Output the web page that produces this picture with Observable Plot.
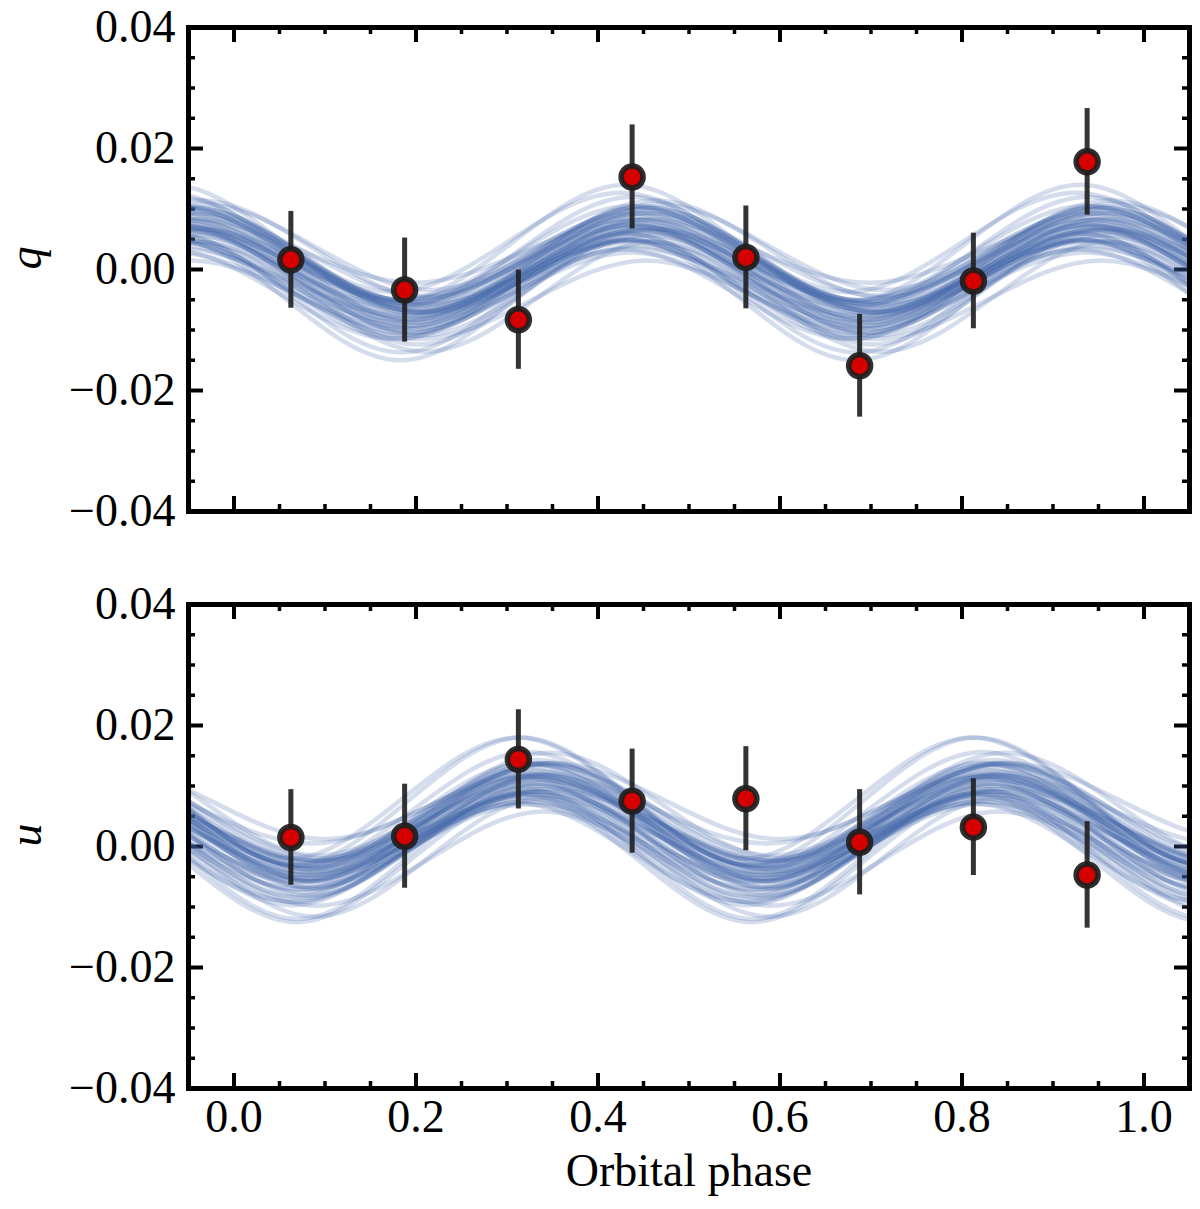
<!DOCTYPE html>
<html lang="en">
<head>
<meta charset="UTF-8">
<title>q and u against orbital phase</title>
<script src="https://cdn.jsdelivr.net/npm/d3@7"></script>
<script src="https://cdn.jsdelivr.net/npm/@observablehq/plot@0.6"></script>
<style>
  body { margin: 0; background: #fff; }
  #chart svg { display: block; }
</style>
</head>
<body>
<div id="chart"></div>
<script>
// phase bins of the measured points
const phase = [0.0625, 0.1875, 0.3125, 0.4375, 0.5625, 0.6875, 0.8125, 0.9375];

// q (top panel)
const qVal = [0.0016, -0.0034, -0.0083, 0.0153, 0.0020, -0.0159, -0.0019, 0.0178];
const qErr = [0.0080, 0.0086, 0.0082, 0.0086, 0.0085, 0.0085, 0.0079, 0.0088];

// u (bottom panel)
const uVal = [0.0015, 0.0017, 0.0144, 0.0075, 0.0079, 0.0007, 0.0032, -0.0047];
const uErr = [0.0079, 0.0086, 0.0082, 0.0086, 0.0086, 0.0087, 0.0080, 0.0088];

// model draws: phase of the first maximum, value at maxima, value at minima
const qPeak = [0.445, 0.432, 0.458, 0.438, 0.451, 0.427, 0.463, 0.441, 0.449, 0.435, 0.456, 0.443,
               0.430, 0.460, 0.447, 0.436, 0.454, 0.442, 0.448, 0.429, 0.452, 0.444, 0.465, 0.433,
               0.446, 0.439, 0.457, 0.440, 0.425, 0.450, 0.445, 0.434, 0.461, 0.447, 0.437, 0.453,
               0.442, 0.455, 0.436, 0.449, 0.444, 0.431, 0.459, 0.446, 0.440, 0.452, 0.438, 0.448];
const qHi = [0.0082, 0.0048, 0.0093, 0.0073, 0.0064, 0.0033, 0.0114, 0.0048, 0.0105, 0.0046, 0.0083, 0.0050,
             0.0140, 0.0046, 0.0093, 0.0028, 0.0094, 0.0070, 0.0086, 0.0060, 0.0069, 0.0065, 0.0108, 0.0050,
             0.0103, 0.0035, 0.0102, 0.0039, 0.0127, 0.0057, 0.0099, 0.0059, 0.0067, 0.0072, 0.0120, 0.0015,
             0.0082, 0.0057, 0.0105, 0.0083, 0.0076, 0.0049, 0.0101, 0.0076, 0.0074, 0.0064, 0.0092, 0.0066];
const qLo = [-0.0062, -0.0108, -0.0043, -0.0097, -0.0058, -0.0115, -0.0046, -0.0084, -0.0073, -0.0094, -0.0071, -0.0066,
             -0.0052, -0.0136, -0.0053, -0.0100, -0.0070, -0.0080, -0.0022, -0.0114, -0.0069, -0.0093, -0.0034, -0.0150,
             -0.0087, -0.0077, -0.0066, -0.0105, -0.0037, -0.0077, -0.0053, -0.0137, -0.0059, -0.0104, -0.0060, -0.0115,
             -0.0058, -0.0109, -0.0051, -0.0097, -0.0072, -0.0087, -0.0071, -0.0082, -0.0056, -0.0124, -0.0050, -0.0088];

const uPeak = [0.330, 0.318, 0.342, 0.325, 0.336, 0.313, 0.347, 0.328, 0.334, 0.321, 0.344, 0.331,
               0.316, 0.339, 0.332, 0.322, 0.341, 0.327, 0.335, 0.314, 0.338, 0.329, 0.350, 0.319,
               0.333, 0.324, 0.343, 0.326, 0.311, 0.337, 0.331, 0.320, 0.346, 0.333, 0.323, 0.340,
               0.328, 0.335, 0.322, 0.339, 0.331, 0.326, 0.344, 0.330, 0.317, 0.336, 0.329, 0.334];
const uHi = [0.0117, 0.0088, 0.0135, 0.0116, 0.0110, 0.0071, 0.0155, 0.0088, 0.0143, 0.0074, 0.0117, 0.0086,
             0.0180, 0.0080, 0.0135, 0.0070, 0.0118, 0.0120, 0.0123, 0.0087, 0.0104, 0.0102, 0.0138, 0.0081,
             0.0137, 0.0075, 0.0137, 0.0082, 0.0180, 0.0091, 0.0130, 0.0096, 0.0096, 0.0101, 0.0156, 0.0058,
             0.0118, 0.0091, 0.0138, 0.0120, 0.0111, 0.0091, 0.0138, 0.0104, 0.0115, 0.0111, 0.0126, 0.0095];
const uLo = [-0.0047, -0.0092, -0.0015, -0.0076, -0.0026, -0.0091, -0.0019, -0.0058, -0.0043, -0.0058, -0.0041, -0.0036,
             -0.0030, -0.0116, -0.0025, -0.0070, -0.0058, -0.0032, 0.0005, -0.0097, -0.0038, -0.0066, 0.0012, -0.0125,
             -0.0057, -0.0051, -0.0033, -0.0072, -0.0020, -0.0047, -0.0036, -0.0120, -0.0024, -0.0081, -0.0032, -0.0098,
             -0.0054, -0.0067, -0.0042, -0.0070, -0.0033, -0.0085, -0.0024, -0.0048, -0.0083, -0.0023, -0.0058, -0.0053];

// axes
const xDomain = [-0.05, 1.05];
const yDomain = [-0.04, 0.04];
const majorX = [0, 0.2, 0.4, 0.6, 0.8, 1.0];
const minorX = [0.05, 0.1, 0.15, 0.25, 0.3, 0.35, 0.45, 0.5, 0.55, 0.65, 0.7, 0.75, 0.85, 0.9, 0.95];
const majorY = [-0.04, -0.02, 0, 0.02, 0.04];
const minorY = [-0.035, -0.03, -0.025, -0.015, -0.01, -0.005, 0.005, 0.01, 0.015, 0.025, 0.03, 0.035];

const serif = "'Liberation Serif', 'DejaVu Serif', serif";

// knots at every max/min of each draw (half period 0.25), monotone curve between them
function bandRows(peak, hi, lo) {
  const rows = [];
  peak.forEach((p, i) => {
    for (let k = -4; k <= 5; k++) {
      rows.push({draw: i, phase: p + k * 0.25, value: k % 2 === 0 ? hi[i] : lo[i]});
    }
  });
  return rows;
}

function panel({vals, errs, peak, hi, lo, label, height, marginTop, marginBottom, showX}) {
  const pts = phase.map((x, i) => ({x, y: vals[i], y1: vals[i] - errs[i], y2: vals[i] + errs[i]}));
  const innerW = 1200 - 188 - 11;
  const innerH = height - marginTop - marginBottom;
  const marks = [
    // inward ticks on all four sides
    Plot.tickX(majorX, {x: d => d, insetTop: innerH - 15, strokeWidth: 4, stroke: "black"}),
    Plot.tickX(majorX, {x: d => d, insetBottom: innerH - 15, strokeWidth: 4, stroke: "black"}),
    Plot.tickX(minorX, {x: d => d, insetTop: innerH - 7, strokeWidth: 3.5, stroke: "black"}),
    Plot.tickX(minorX, {x: d => d, insetBottom: innerH - 7, strokeWidth: 3.5, stroke: "black"}),
    Plot.tickY(majorY, {y: d => d, insetRight: innerW - 15, strokeWidth: 4, stroke: "black"}),
    Plot.tickY(majorY, {y: d => d, insetLeft: innerW - 15, strokeWidth: 4, stroke: "black"}),
    Plot.tickY(minorY, {y: d => d, insetRight: innerW - 7, strokeWidth: 3.5, stroke: "black"}),
    Plot.tickY(minorY, {y: d => d, insetLeft: innerW - 7, strokeWidth: 3.5, stroke: "black"}),
    Plot.line(bandRows(peak, hi, lo), {
      x: "phase", y: "value", z: "draw", curve: "monotone-x",
      stroke: "#3f62a8", strokeOpacity: 0.22, strokeWidth: 4.5, clip: true
    }),
    Plot.ruleX(pts, {x: "x", y1: "y1", y2: "y2", stroke: "#1e1e1e", strokeWidth: 5, strokeOpacity: 0.9}),
    Plot.dot(pts, {x: "x", y: "y", r: 11, fill: "#d60000", stroke: "#1e1e1e", strokeWidth: 5.5, strokeOpacity: 0.92}),
    Plot.frame({stroke: "black", strokeWidth: 5}),
    Plot.text([label], {frameAnchor: "left", dx: -162, rotate: -90, fontStyle: "italic", fontSize: 46})
  ];
  if (showX) marks.push(Plot.text(["Orbital phase"], {frameAnchor: "bottom", dy: 97, fontSize: 46}));

  return Plot.plot({
    width: 1200,
    height,
    marginLeft: 188,
    marginRight: 11,
    marginTop,
    marginBottom,
    style: {fontFamily: serif, fontSize: "46px", color: "black", background: "white", overflow: "visible"},
    x: {
      domain: xDomain, ticks: majorX, tickSize: 0, tickPadding: 11,
      tickFormat: d3.format(".1f"), label: null, axis: showX ? "bottom" : null
    },
    y: {
      domain: yDomain, ticks: majorY, tickSize: 0, tickPadding: 13,
      tickFormat: d3.format(".2f"), label: null
    },
    marks
  });
}

const qPlot = panel({vals: qVal, errs: qErr, peak: qPeak, hi: qHi, lo: qLo, label: "q",
                     height: 557, marginTop: 27, marginBottom: 46, showX: false});
const uPlot = panel({vals: uVal, errs: uErr, peak: uPeak, hi: uHi, lo: uLo, label: "u",
                     height: 652, marginTop: 47, marginBottom: 121, showX: true});

document.querySelector("#chart").append(qPlot, uPlot);
</script>
</body>
</html>
